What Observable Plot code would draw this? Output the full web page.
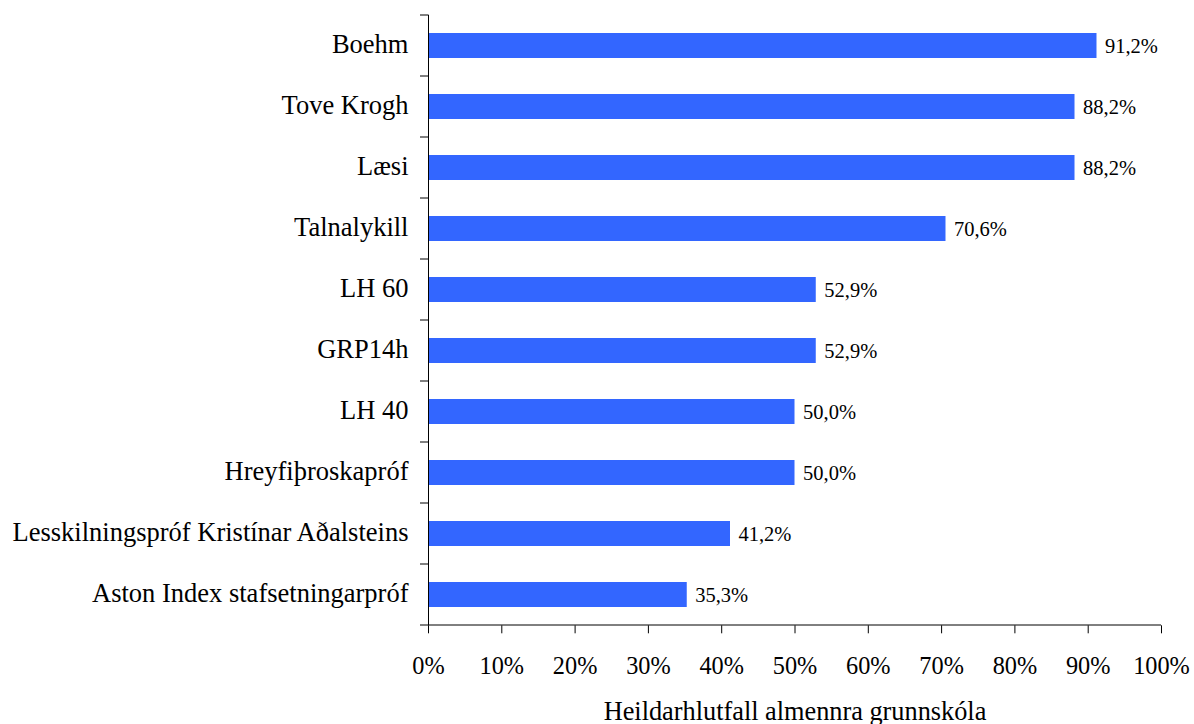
<!DOCTYPE html>
<html>
<head>
<meta charset="utf-8">
<script src="https://cdn.jsdelivr.net/npm/d3@7"></script>
<script src="https://cdn.jsdelivr.net/npm/@observablehq/plot@0.6"></script>
<style>
  html, body { margin: 0; padding: 0; background: #fff; }
  svg { display: block; }
  svg, svg text, svg tspan { font-family: "Liberation Serif", "Times New Roman", "DejaVu Serif", serif !important; }
</style>
</head>
<body>
<div id="chart"></div>
<script>
const categories = [
  "Boehm",
  "Tove Krogh",
  "Læsi",
  "Talnalykill",
  "LH 60",
  "GRP14h",
  "LH 40",
  "Hreyfiþroskapróf",
  "Lesskilningspróf Kristínar Aðalsteins",
  "Aston Index stafsetningarpróf"
];
const values = [0.912, 0.882, 0.882, 0.706, 0.529, 0.529, 0.500, 0.500, 0.412, 0.353];
const xTicks = [0, 0.1, 0.2, 0.3, 0.4, 0.5, 0.6, 0.7, 0.8, 0.9, 1.0];
const axisTitle = "Heildarhlutfall almennra grunnskóla";

const data = categories.map((c, i) => ({category: c, value: values[i]}));
const pct1 = v => (v * 100).toFixed(1).replace(".", ",") + "%";

const W = 1194, H = 724;
const mTop = 14.7, mBottom = 98.7, mLeft = 428, mRight = 33;

const plot = Plot.plot({
  width: W,
  height: H,
  marginTop: mTop,
  marginBottom: mBottom,
  marginLeft: mLeft,
  marginRight: mRight,
  style: {color: "#000", background: "#fff", overflow: "visible"},
  x: {domain: [0, 1]},
  y: {domain: categories, paddingInner: 0.59, paddingOuter: 0.295},
  marks: [
    Plot.barX(data, {y: "category", x: "value", fill: "#3366ff"}),
    Plot.text(data, {
      y: "category", x: "value", text: d => pct1(d.value),
      textAnchor: "start", dx: 8, fontSize: 20.5, fill: "#000"
    }),
    Plot.axisY({tickSize: 0, tickPadding: 20, fontSize: 26.5, dy: -1, label: null, fill: "#000"}),
    Plot.axisX({
      ticks: xTicks, tickSize: 8, tickPadding: 23, fontSize: 24.3, label: null,
      tickFormat: d => Math.round(d * 100) + "%", stroke: "#000", fill: "#000"
    }),
    Plot.ruleX([0], {stroke: "#000", strokeWidth: 1}),
    Plot.text([axisTitle], {
      frameAnchor: "bottom", text: d => d, lineAnchor: "bottom",
      dy: 94, fontSize: 26.3, fill: "#000"
    })
  ]
});

document.getElementById("chart").appendChild(plot);

// Category-boundary ticks on the y axis and the x-axis baseline, from Plot's scales
const sy = plot.scale("y");
const sx = plot.scale("x");
const bw = sy.bandwidth;
const step = sy.step != null ? sy.step : bw / (1 - 0.59);
const halfGap = (step - bw) / 2;
const bounds = categories.map(c => sy.apply(c) - halfGap);
bounds.push(sy.apply(categories[categories.length - 1]) + bw + halfGap);
const x0 = sx.apply(0), x1 = sx.apply(1);
const g = d3.select(plot).append("g").attr("stroke", "#000").attr("stroke-width", 1);
g.selectAll("line.b").data(bounds).join("line")
  .attr("x1", x0 - 8).attr("x2", x0)
  .attr("y1", d => d).attr("y2", d => d);
g.append("line")
  .attr("x1", x0).attr("x2", x1)
  .attr("y1", bounds[bounds.length - 1]).attr("y2", bounds[bounds.length - 1]);
</script>
</body>
</html>
